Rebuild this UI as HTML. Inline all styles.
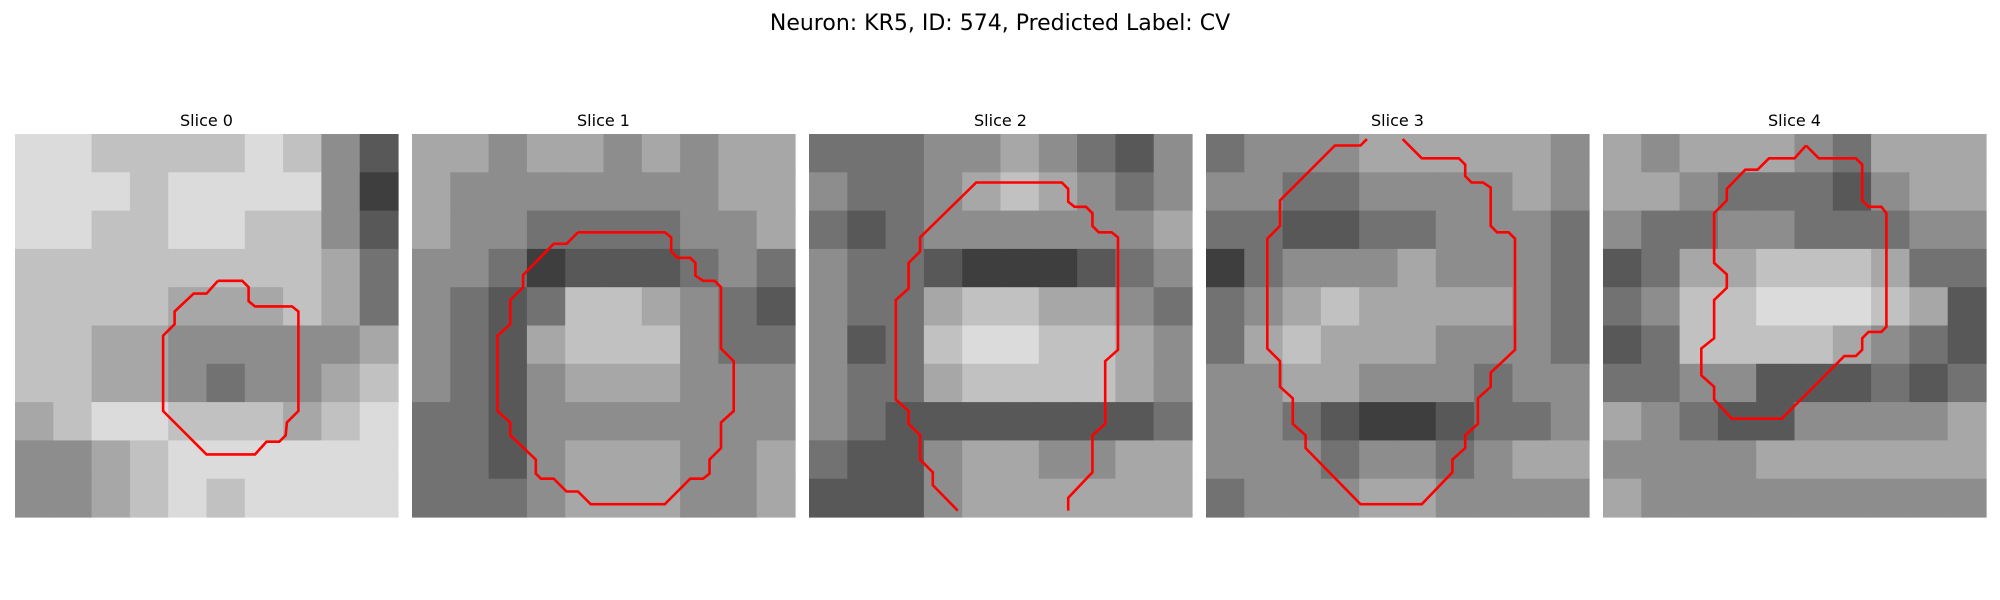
<!DOCTYPE html>
<html><head><meta charset="utf-8"><style>
html,body{margin:0;padding:0;background:#fff;width:2000px;height:600px;overflow:hidden}
svg{display:block}
text{font-family:"DejaVu Sans","Liberation Sans",sans-serif;fill:#000}
</style></head><body>
<svg id="fig" width="2000" height="600" viewBox="0 0 2000 600">
<text x="1000" y="30" text-anchor="middle" font-size="22">Neuron: KR5, ID: 574, Predicted Label: CV</text>
</svg>
<script>
// coarse intensity grids (0=black .. 9=white), 10x10 blocks per slice
const slice0 = [
[8,8,7,7,7,7,8,7,5,3],[8,8,8,7,8,8,8,8,5,2],[8,8,7,7,8,8,7,7,5,3],[7,7,7,7,7,7,7,7,6,4],[7,7,7,7,6,6,6,7,6,4],
[7,7,6,6,5,5,5,5,5,6],[7,7,6,6,5,4,5,5,6,7],[6,7,8,8,7,7,7,6,7,8],[5,5,6,7,8,8,8,8,8,8],[5,5,6,7,8,7,8,8,8,8]];
const slice1 = [
[6,6,5,6,6,5,6,5,6,6],[6,5,5,5,5,5,5,5,6,6],[6,5,5,4,4,4,4,5,5,6],[5,5,4,2,3,3,3,4,5,4],[5,4,3,4,7,7,6,5,4,3],
[5,4,3,6,7,7,7,5,4,4],[5,4,3,5,6,6,6,5,5,5],[4,4,3,5,5,5,5,5,5,5],[4,4,3,5,6,6,6,5,5,6],[4,4,4,5,6,6,6,5,5,6]];
const slice2 = [
[4,4,4,5,5,6,5,4,3,5],[5,4,4,5,6,7,6,5,4,5],[4,3,4,5,5,5,5,5,5,6],[5,4,4,3,2,2,2,3,4,5],[5,4,4,6,7,7,6,6,5,4],
[5,3,4,7,8,8,7,7,6,5],[5,4,4,6,7,7,7,7,6,5],[5,4,3,3,3,3,3,3,3,4],[4,3,3,5,6,6,5,5,6,6],[3,3,3,5,6,6,6,6,6,6]];
const slice3 = [
[4,5,5,5,6,6,6,6,6,5],[5,5,4,4,5,5,5,5,6,5],[4,4,3,3,4,4,5,5,5,4],[2,4,5,5,5,6,5,5,5,4],[4,5,6,7,6,6,6,6,5,4],
[4,6,7,6,6,6,5,5,5,4],[5,5,6,6,5,5,5,4,5,5],[5,5,4,3,2,2,3,4,4,5],[5,5,5,4,5,5,4,5,6,6],[4,5,5,5,6,6,5,5,5,5]];
const slice4 = [
[6,5,6,6,6,5,4,6,6,6],[6,6,5,4,4,4,3,5,6,6],[5,4,4,5,5,4,4,4,5,5],[3,4,6,6,7,7,7,6,4,4],[4,5,7,7,8,8,8,7,6,3],
[3,4,7,7,7,7,6,5,4,3],[4,4,5,5,3,3,3,4,3,4],[6,5,4,3,3,5,5,5,5,6],[5,5,5,5,6,6,6,6,6,6],[6,5,5,5,5,5,5,5,5,5]];
// contours in cell coordinates (0..30)
const contour0 = [[15.9,11.5],[17.8,11.5],[18.3,12.0],[18.3,13.1],[18.8,13.5],[21.7,13.5],[22.2,13.9],[22.2,21.7],[21.3,22.6],[21.2,23.6],[20.7,24.1],[19.7,24.1],[18.8,25.1],[15.0,25.1],[11.6,21.7],[11.6,15.8],[12.5,14.9],[12.5,13.9],[14.0,12.5],[15.0,12.5],[15.9,11.5]];
const contour1 = [[13.0,7.7],[19.8,7.7],[20.3,8.1],[20.3,9.2],[20.8,9.7],[21.8,9.7],[22.2,10.1],[22.2,11.1],[22.8,11.5],[23.7,11.5],[24.2,12.0],[24.2,16.8],[25.2,17.8],[25.2,21.7],[24.2,22.6],[24.2,24.6],[23.3,25.5],[23.3,26.6],[22.8,27.0],[21.8,27.0],[19.8,29.0],[14.0,29.0],[13.0,28.0],[12.1,28.0],[11.1,27.0],[10.1,27.0],[9.7,26.6],[9.7,25.5],[7.7,23.6],[7.7,22.6],[6.7,21.7],[6.7,15.8],[7.7,14.9],[7.7,13.0],[8.7,12.0],[8.7,11.05],[11.1,8.6],[12.1,8.6],[13.0,7.7]];
const contour2 = [[11.65,29.5],[9.7,27.5],[9.7,26.5],[8.7,25.5],[8.7,23.6],[7.8,22.7],[7.8,21.7],[6.8,20.8],[6.8,13.0],[7.8,12.1],[7.8,10.1],[8.7,9.2],[8.7,8.1],[13.1,3.8],[19.8,3.8],[20.3,4.3],[20.3,5.3],[20.8,5.7],[21.7,5.7],[22.2,6.2],[22.2,7.2],[22.7,7.7],[23.7,7.7],[24.2,8.1],[24.2,16.9],[23.2,17.8],[23.2,22.7],[22.2,23.6],[22.2,26.5],[20.3,28.5],[20.3,29.5]];
const contour3 = [[12.6,0.4],[12.1,0.9],[10.1,0.9],[5.8,5.2],[5.8,7.2],[4.8,8.2],[4.8,16.8],[5.8,17.8],[5.8,19.8],[6.8,20.7],[6.8,22.7],[7.8,23.6],[7.8,24.6],[12.1,29.0],[16.9,29.0],[19.3,26.5],[19.3,25.5],[20.3,24.6],[20.3,23.6],[21.3,22.7],[21.3,20.7],[22.3,19.8],[22.3,18.7],[24.2,16.9],[24.2,8.2],[23.7,7.7],[22.8,7.7],[22.3,7.2],[22.3,4.2],[21.7,3.8],[20.8,3.8],[20.3,3.3],[20.3,2.4],[19.8,1.9],[16.9,1.9],[15.4,0.4]];
const contour4 = [[15.9,0.9],[16.9,1.9],[19.8,1.9],[20.3,2.4],[20.3,5.2],[20.8,5.7],[21.8,5.7],[22.2,6.2],[22.2,15.1],[21.8,15.5],[20.8,15.5],[20.3,16.0],[20.3,16.9],[19.8,17.4],[18.9,17.4],[14.0,22.3],[10.1,22.3],[8.7,20.8],[8.7,19.8],[7.7,18.9],[7.7,16.8],[8.7,16.0],[8.7,13.0],[9.7,12.05],[9.7,11.0],[8.7,10.1],[8.7,6.2],[9.7,5.2],[9.7,4.3],[11.15,2.8],[12.1,2.8],[13.0,1.9],[15.0,1.9],[15.9,0.9]];
const sliceTitles = ["Slice 0","Slice 1","Slice 2","Slice 3","Slice 4"];

const grids=[slice0,slice1,slice2,slice3,slice4];
const contours=[contour0,contour1,contour2,contour3,contour4];
const NS="http://www.w3.org/2000/svg";
const svg=document.getElementById('fig');
const panelLeft=i=>15+i*397;
const panelTop=134, panelSize=383;
function mk(t){return document.createElementNS(NS,t);}
grids.forEach((g,i)=>{
  const x0=panelLeft(i);
  const grp=mk('g');
  
  
  svg.appendChild(grp);
  const n=g.length, bs=panelSize/n;
  g.forEach((row,r)=>row.forEach((v,c)=>{
    const rc=mk('rect');
    
    
    rc.setAttribute('x',x0+c*bs);rc.setAttribute('y',panelTop+r*bs);
    rc.setAttribute('width',bs+0.6);rc.setAttribute('height',bs+0.6);
    const gv=Math.round(10+v/9*235);
    rc.setAttribute('fill',`rgb(${gv},${gv},${gv})`);
    grp.appendChild(rc);
  }));
  const cs=panelSize/30;
  const pl=mk('polyline');
  
  
  pl.setAttribute('points',contours[i].map(p=>(x0+p[0]*cs).toFixed(1)+','+(panelTop+p[1]*cs).toFixed(1)).join(' '));
  pl.setAttribute('fill','none');pl.setAttribute('stroke','#ff0000');pl.setAttribute('stroke-width','2.6');
  grp.appendChild(pl);
  const t=mk('text');
  
  
  t.setAttribute('x',x0+panelSize/2);t.setAttribute('y',126);
  t.setAttribute('text-anchor','middle');t.setAttribute('font-size','16');
  t.textContent=sliceTitles[i];
  svg.appendChild(t);
});
</script>
</body></html>
